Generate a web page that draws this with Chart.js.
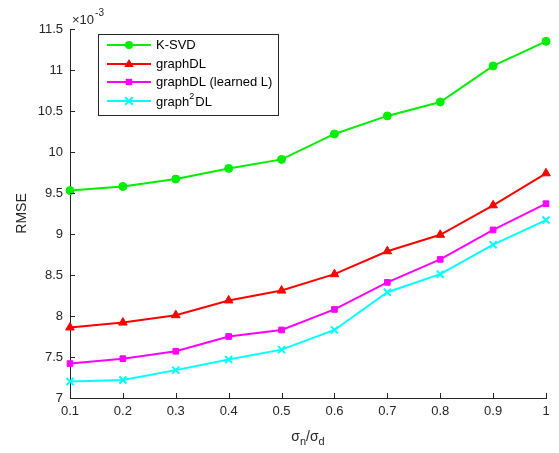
<!DOCTYPE html>
<html lang="en">
<head>
  <meta charset="UTF-8">
  <title>RMSE vs noise ratio</title>
  <script src="https://cdn.jsdelivr.net/npm/chart.js"></script>
  <style>
    body { margin: 0; background: #fff; }
    #wrap { width: 559px; height: 453px; }
  </style>
</head>
<body>
<div id="wrap"><canvas id="rmseChart" width="559" height="453"></canvas></div>
<script>
// x values (sigma_n / sigma_d)
const ratios = [0.1, 0.2, 0.3, 0.4, 0.5, 0.6, 0.7, 0.8, 0.9, 1.0];
// RMSE values, in units of 1e-3
const ksvd      = [9.53, 9.58, 9.67, 9.80, 9.91, 10.22, 10.44, 10.61, 11.05, 11.35];
const graphDL   = [7.86, 7.92, 8.01, 8.19, 8.31, 8.51, 8.79, 8.99, 9.35, 9.74];
const graphDLL  = [7.42, 7.48, 7.57, 7.75, 7.83, 8.08, 8.41, 8.69, 9.05, 9.37];
const graph2DL  = [7.20, 7.22, 7.34, 7.47, 7.59, 7.83, 8.29, 8.51, 8.87, 9.17];
const seriesNames = ["K-SVD", "graphDL", "graphDL (learned L)", "graph2DL"];
const yTicks = { min: 7, max: 11.5, step: 0.5 };

const FONT = '"Liberation Sans", Arial, Helvetica, sans-serif';
const AXIS = '#262626';

function pts(vals) { return ratios.map((x, i) => ({ x: x, y: vals[i] })); }
// matlab style: no trailing zeros
function fmt(v) { return String(Math.round(v * 100) / 100); }

const styles = [
  { color: '#00ee00', point: 'circle',   r: 4 },
  { color: '#ff0000', point: 'triangle', r: 5 },
  { color: '#ff00ff', point: 'rect',     r: 4 },
  { color: '#00ffff', point: 'crossRot', r: 5 }
];
const allData = [ksvd, graphDL, graphDLL, graph2DL];

const datasets = allData.map((vals, i) => ({
  label: seriesNames[i],
  data: pts(vals),
  borderColor: styles[i].color,
  backgroundColor: styles[i].color,
  borderWidth: 2,
  pointStyle: styles[i].point,
  pointRadius: styles[i].r,
  pointBorderWidth: styles[i].point === 'crossRot' ? 2 : 1,
  pointHoverRadius: styles[i].r,
  fill: false,
  tension: 0,
  clip: false
}));

function drawMarker(ctx, style, x, y) {
  const r = style.r;
  ctx.save();
  ctx.fillStyle = style.color;
  ctx.strokeStyle = style.color;
  ctx.lineWidth = 2;
  ctx.beginPath();
  if (style.point === 'circle') {
    ctx.arc(x, y, r, 0, Math.PI * 2); ctx.fill();
  } else if (style.point === 'triangle') {
    ctx.moveTo(x, y - r); ctx.lineTo(x + r * 0.95, y + r * 0.6); ctx.lineTo(x - r * 0.95, y + r * 0.6);
    ctx.closePath(); ctx.fill();
  } else if (style.point === 'rect') {
    ctx.fillRect(x - r * 0.8, y - r * 0.8, r * 1.6, r * 1.6);
  } else {
    const d = r * 0.75;
    ctx.moveTo(x - d, y - d); ctx.lineTo(x + d, y + d);
    ctx.moveTo(x + d, y - d); ctx.lineTo(x - d, y + d); ctx.stroke();
  }
  ctx.restore();
}

const decorPlugin = {
  id: 'decor',
  afterDraw(chart) {
    const ctx = chart.ctx;
    const xs = chart.scales.x, ys = chart.scales.y;
    const area = chart.chartArea;
    ctx.save();
    // inward tick marks
    ctx.strokeStyle = AXIS;
    ctx.lineWidth = 1;
    ctx.beginPath();
    xs.ticks.forEach(t => {
      const px = Math.round(xs.getPixelForValue(t.value)) + 0.5;
      ctx.moveTo(px, area.bottom); ctx.lineTo(px, area.bottom - 5);
    });
    ys.ticks.forEach(t => {
      const py = Math.round(ys.getPixelForValue(t.value)) + 0.5;
      ctx.moveTo(area.left, py); ctx.lineTo(area.left + 5, py);
    });
    ctx.stroke();

    ctx.fillStyle = AXIS;
    // exponent label
    ctx.textBaseline = 'alphabetic';
    ctx.textAlign = 'left';
    ctx.font = '13px ' + FONT;
    ctx.fillText('\u00d710', 72, 24);
    let w = ctx.measureText('\u00d710').width;
    ctx.font = '10px ' + FONT;
    ctx.fillText('-3', 72 + w + 1, 16);

    // y title
    ctx.save();
    ctx.translate(22, (area.top + area.bottom) / 2);
    ctx.rotate(-Math.PI / 2);
    ctx.textAlign = 'center';
    ctx.textBaseline = 'middle';
    ctx.font = '14px ' + FONT;
    ctx.fillText('RMSE', 0, 0);
    ctx.restore();

    // x title: sigma_n / sigma_d
    const cx = (area.left + area.right) / 2;
    const base = 441;
    const parts = [
      { t: '\u03c3', f: 14, dy: 0 }, { t: 'n', f: 11, dy: 4 },
      { t: '/', f: 14, dy: 0 }, { t: '\u03c3', f: 14, dy: 0 }, { t: 'd', f: 11, dy: 4 }
    ];
    let total = 0;
    parts.forEach(p => { ctx.font = p.f + 'px ' + FONT; p.w = ctx.measureText(p.t).width; total += p.w; });
    let xp = cx - total / 2;
    ctx.textAlign = 'left';
    parts.forEach(p => { ctx.font = p.f + 'px ' + FONT; ctx.fillText(p.t, xp, base + p.dy); xp += p.w; });

    // legend
    const lx = 98.5, ly = 34.5, lw = 180, lh = 81;
    ctx.fillStyle = '#ffffff';
    ctx.fillRect(lx, ly, lw, lh);
    ctx.strokeStyle = AXIS;
    ctx.lineWidth = 1;
    ctx.strokeRect(lx, ly, lw, lh);
    const rows = [45, 64, 82, 101];
    seriesNames.forEach((name, i) => {
      const y = rows[i];
      ctx.strokeStyle = styles[i].color;
      ctx.lineWidth = 2;
      ctx.beginPath(); ctx.moveTo(107, y); ctx.lineTo(151, y); ctx.stroke();
      drawMarker(ctx, styles[i], 129, y);
      ctx.fillStyle = '#000';
      ctx.textBaseline = 'middle';
      if (name === 'graph2DL') {
        ctx.font = '13px ' + FONT;
        ctx.fillText('graph', 156, y + 1);
        let gw = ctx.measureText('graph').width;
        ctx.font = '9px ' + FONT;
        ctx.fillText('2', 156 + gw, y - 4);
        let sw = ctx.measureText('2').width;
        ctx.font = '13px ' + FONT;
        ctx.fillText('DL', 156 + gw + sw + 1, y + 1);
      } else {
        ctx.font = '13px ' + FONT;
        ctx.fillText(name, 156, y);
      }
    });
    ctx.restore();
  }
};

new Chart(document.getElementById('rmseChart').getContext('2d'), {
  type: 'line',
  data: { datasets: datasets },
  plugins: [decorPlugin],
  options: {
    responsive: false,
    animation: false,
    events: [],
    layout: { padding: { left: 0, right: 13, top: 29, bottom: 0 } },
    plugins: { legend: { display: false }, tooltip: { enabled: false } },
    scales: {
      x: {
        type: 'linear',
        min: ratios[0],
        max: ratios[ratios.length - 1],
        afterFit(s) { s.height = 55; },
        ticks: { stepSize: 0.1, autoSkip: false, maxRotation: 0, padding: 6, color: AXIS,
                 font: { family: FONT, size: 13 }, callback: v => fmt(v) },
        grid: { drawOnChartArea: false, drawTicks: false },
        border: { display: true, color: AXIS, width: 1 }
      },
      y: {
        min: yTicks.min,
        max: yTicks.max,
        afterFit(s) { s.width = 70; },
        ticks: { stepSize: yTicks.step, padding: 7, color: AXIS,
                 font: { family: FONT, size: 13 }, callback: v => fmt(v) },
        grid: { drawOnChartArea: false, drawTicks: false },
        border: { display: true, color: AXIS, width: 1 }
      }
    }
  }
});
</script>
</body>
</html>
